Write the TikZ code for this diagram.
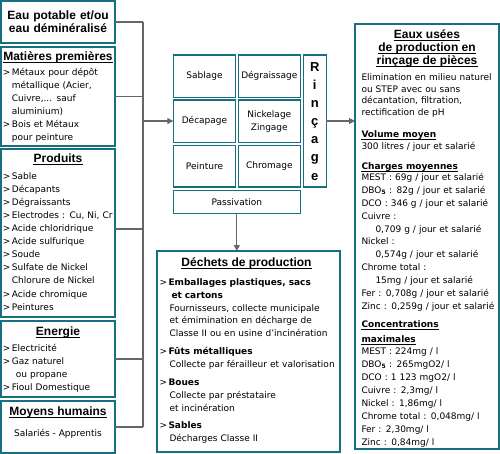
\documentclass[tikz,border=0pt]{standalone}
\usepackage{fontspec}
\setmainfont{DejaVu Sans}
\newfontfamily\hdfont{Liberation Sans}
\usetikzlibrary{arrows.meta,fit}
\definecolor{boxc}{HTML}{17707F}
\definecolor{linec}{HTML}{666666}
\newcommand\bodyf{\fontsize{9}{13}\selectfont}
\newcommand\headf{\hdfont\bfseries\fontsize{12}{13}\selectfont}
\newcommand\myitm{\makebox[9pt][l]{>}}
\newcommand\myind{\hspace*{9pt}}
\newcommand\ulnode[1]{\draw[ulc] ([yshift=-2pt]#1.base -| #1.west) -- ([yshift=-2pt]#1.base -| #1.east);}
\tikzset{
 bx/.style={draw=boxc, line width=1.6pt, inner sep=0pt, outer sep=0pt},
 cell/.style={draw=boxc, line width=1.3pt, inner sep=0pt, outer sep=0pt, font=\bodyf, align=center},
 conn/.style={draw=linec, line width=1.1pt},
 arr/.style={conn, -{Triangle[length=6pt,width=6pt]}},
 ulc/.style={draw=black, line width=1pt},
 txt/.style={inner sep=0pt, anchor=base west, align=left, font=\bodyf, text width=#1},
 hd/.style={inner sep=0pt, anchor=base, font=\headf},
 bh/.style={inner sep=0pt, anchor=base west, font=\bodyf\bfseries},
}
\begin{document}
\begin{tikzpicture}[x=1pt,y=-1pt]
\useasboundingbox (0,0) rectangle (500,454);
% left column
\node[bx, fit={(1,1) (115,43)}] (A) {};
\node[hd, align=center, font=\hdfont\bfseries\fontsize{12}{12.7}\selectfont, text width=112pt] (At) at (58,20) {Eau potable et/ou\\eau déminéralisé};

\node[bx, fit={(1,47) (115,146)}] (M) {};
\node[hd] (Mh) at (58,61) {Matières premières};
\node[txt=112] (Mb) at (2.7,75.5) {\myitm Métaux pour dépôt\\ \myind métallique (Acier,\\ \myind Cuivre,... sauf\\ \myind aluminium)\\ \myitm Bois et Métaux\\ \myind pour peinture};

\node[bx, fit={(1,149) (115,317)}] (P) {};
\node[hd] (Ph) at (58,162.5) {Produits};
\node[txt=112, font=\fontsize{9}{13.1}\selectfont] (Pb) at (2.7,179.2) {\myitm Sable\\ \myitm Décapants\\ \myitm Dégraissants\\ \myitm Electrodes : Cu, Ni, Cr\\ \myitm Acide chloridrique\\ \myitm Acide sulfurique\\ \myitm Soude\\ \myitm Sulfate de Nickel\\ \myind Chlorure de Nickel\\ \myitm Acide chromique\\ \myitm Peintures};

\node[bx, fit={(1,321) (115,397)}] (E) {};
\node[hd] (Eh) at (58,335) {Energie};
\node[txt=112] (Eb) at (2.7,351.2) {\myitm Electricité\\ \myitm Gaz naturel\\ \hspace*{13pt}ou propane\\ \myitm Fioul Domestique};

\node[bx, fit={(1,401) (115,453)}] (H) {};
\node[hd] (Hh) at (58,415) {Moyens humains};
\node[inner sep=0pt, anchor=base, font=\bodyf] (Hb) at (58,436.2) {Salariés - Apprentis};

% process block
\node[cell, minimum width=62.4pt, minimum height=42.3pt] (sab) at (204.5,76.2) {Sablage};
\node[cell, minimum width=62pt, minimum height=42.3pt] (deg) at (269.3,76.2) {Dégraissage};
\node[cell, minimum width=62.4pt, minimum height=42.3pt] (dec) at (204.5,121.2) {Décapage};
\node[cell, minimum width=62pt, minimum height=42.3pt, font=\fontsize{9}{12.7}\selectfont] (nic) at (269.3,121.2) {Nickelage\\Zingage};
\node[cell, minimum width=62.4pt, minimum height=41.7pt] (pei) at (204.5,166.2) {Peinture};
\node[cell, minimum width=62pt, minimum height=41.7pt] (chr) at (269.3,166.2) {Chromage};
\node[cell, minimum width=23pt, minimum height=132pt] (rin) at (314.8,121) {};
\node[hd, align=center, text width=20pt, font=\hdfont\bfseries\fontsize{13}{18.1}\selectfont] (rint) at (314.8,71.5) {R\\i\\n\\ç\\a\\g\\e};
\node[cell, minimum width=127pt, minimum height=23pt] (pas) at (236.8,201.8) {Passivation};

% waste box
\node[bx, fit={(157,251) (340,452)}] (D) {};
\node[hd] (Dh) at (246.5,266) {Déchets de production};
\node[txt=180, font=\fontsize{9}{12.9}\selectfont] (Db) at (159.3,285.2) {\myitm\textbf{Emballages plastiques, sacs}\\ \hspace*{12pt}\textbf{et cartons}\\ \hspace*{10pt}Fournisseurs, collecte municipale\\ \hspace*{10pt}et émimination en décharge de\\ \hspace*{10pt}Classe II ou en usine d'incinération\\[4.5pt] \myitm\textbf{Fûts métalliques}\\ \hspace*{10pt}Collecte par férailleur et valorisation\\[5.8pt] \myitm\textbf{Boues}\\ \hspace*{10pt}Collecte par préstataire\\ \hspace*{10pt}et incinération\\[4.3pt] \myitm\textbf{Sables}\\ \hspace*{10pt}Décharges Classe II};

% right box
\node[bx, fit={(355,24) (499,449)}] (R) {};
\node[hd] (Rh1) at (427,38.3) {Eaux usées};
\node[hd] (Rh2) at (427,51.3) {de production en};
\node[hd] (Rh3) at (427,64.3) {rinçage de pièces};
\node[txt=136, font=\fontsize{9}{11.7}\selectfont] (Rb1) at (361.3,80.5) {Elimination en milieu naturel\\ou STEP avec ou sans\\décantation, filtration,\\rectification de pH};
\node[bh] (Rv) at (361.3,137.5) {Volume moyen};
\node[txt=136] (Rb2) at (361.3,149.5) {300 litres / jour et salarié};
\node[bh] (Rc) at (361.3,169.2) {Charges moyennes};
\node[txt=136, font=\fontsize{9}{12.87}\selectfont] (Rb3) at (361.3,180.6) {MEST : 69g / jour et salarié\\ DBO\textsubscript{\textbf{5}} : 82g / jour et salarié\\ DCO : 346 g / jour et salarié\\ Cuivre :\\ \hspace*{14pt}0,709 g / jour et salarié\\ Nickel :\\ \hspace*{14pt}0,574g / jour et salarié\\ Chrome total :\\ \hspace*{14pt}15mg / jour et salarié\\ Fer : 0,708g / jour et salarié\\ Zinc : 0,259g / jour et salarié};
\node[bh] (Rk1) at (361.3,327.5) {Concentrations};
\node[bh] (Rk2) at (361.3,342.4) {maximales};
\node[txt=136, font=\fontsize{9}{12.9}\selectfont] (Rb4) at (361.3,354.8) {MEST : 224mg / l\\ DBO\textsubscript{\textbf{5}} : 265mgO2/ l\\ DCO : 1 123 mgO2/ l\\ Cuivre : 2,3mg/ l\\ Nickel : 1,86mg/ l\\ Chrome total : 0,048mg/ l\\ Fer : 2,30mg/ l\\ Zinc : 0,84mg/ l};

% underlines
\ulnode{Mh} \ulnode{Ph} \ulnode{Eh} \ulnode{Hh} \ulnode{Dh}
\ulnode{Rh1} \ulnode{Rh2} \ulnode{Rh3} \ulnode{Rv} \ulnode{Rc} \ulnode{Rk1} \ulnode{Rk2}

% connectors
\coordinate (bus) at (143,121);
\draw[conn] (A.east) -- (A.east -| bus);
\draw[conn] (M.east) -- (M.east -| bus);
\draw[conn] ([yshift=4pt]P.east) -- ([yshift=4pt]P.east -| bus);
\draw[conn] (E.east) -- (E.east -| bus);
\draw[conn] (H.east) -- (H.east -| bus);
\draw[conn] (A.east -| bus) -- (H.east -| bus);
\draw[arr] (bus) -- (bus -| dec.west);
\draw[arr] (rin.east) -- (rin.east -| R.west);
\draw[arr] (pas.south) -- (pas.south |- D.north);
\end{tikzpicture}
\end{document}
